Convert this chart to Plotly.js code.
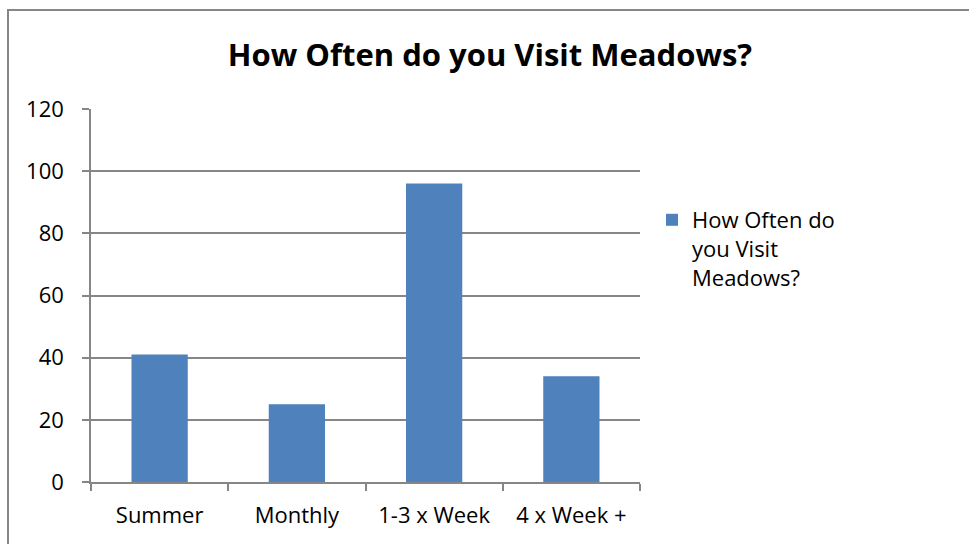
<!DOCTYPE html>
<html>
<head>
<meta charset="utf-8">
<script src="https://cdn.plot.ly/plotly-3.0.1.min.js"></script>
<style>
html,body{margin:0;padding:0;background:#fff;}
#chart{width:969px;height:544px;}
</style>
</head>
<body>
<div id="chart"></div>
<script>
const categories = ["Summer", "Monthly", "1-3 x Week", "4 x Week +"];
const values = [41, 25, 96, 34];
const seriesName = "How Often do<br>you Visit<br>Meadows?";
const chartTitle = "How Often do you Visit Meadows?";
const yTicks = [0, 20, 40, 60, 80, 100, 120];

const L = 91, R = 640, T = 109, B = 482, W = 969, H = 544;
const pw = R - L, ph = B - T;
const px = x => (x - L) / pw;
const py = y => (B - y) / ph;

const font = "Open Sans, Noto Sans, sans-serif";
const grey = "#868686";

Plotly.newPlot("chart", [{
  type: "bar",
  x: categories,
  y: values,
  name: seriesName,
  marker: {color: "#4f81bd"},
  showlegend: true,
  hoverinfo: "x+y"
}], {
  width: W, height: H,
  margin: {l: L, r: W - R, t: T, b: H - B, pad: 0},
  paper_bgcolor: "#fff",
  plot_bgcolor: "#fff",
  bargap: 0.59,
  title: {
    text: "<b>" + chartTitle + "</b>",
    font: {family: font, size: 31, color: "#000"},
    x: px(490), xref: "paper", xanchor: "center",
    y: 1 - 55 / H, yref: "container", yanchor: "middle"
  },
  xaxis: {
    type: "category",
    showline: true, linecolor: grey, linewidth: 1.5,
    ticks: "outside", tickson: "boundaries", ticklen: 7, tickcolor: grey, tickwidth: 1.5,
    showgrid: false,
    tickfont: {family: font, size: 22, color: "#000"},
    ticklabelstandoff: 13,
    fixedrange: true
  },
  yaxis: {
    range: [0, 120],
    tickvals: yTicks,
    ticktext: yTicks.map(String),
    showline: true, linecolor: grey, linewidth: 1.5,
    ticks: "outside", ticklen: 7, tickcolor: grey, tickwidth: 1.5,
    showgrid: true, gridcolor: grey, gridwidth: 1.5,
    zeroline: false,
    tickfont: {family: font, size: 22, color: "#000"},
    ticklabelstandoff: 14,
    fixedrange: true
  },
  legend: {
    x: px(652), y: py(199), xanchor: "left", yanchor: "top",
    valign: "top",
    font: {family: font, size: 22, color: "#000"},
    bgcolor: "rgba(0,0,0,0)"
  },
  shapes: [
    {type: "line", xref: "paper", yref: "paper", x0: px(7), x1: px(969), y0: py(10), y1: py(10), line: {color: grey, width: 2}},
    {type: "line", xref: "paper", yref: "paper", x0: px(8), x1: px(8), y0: py(9), y1: py(544), line: {color: grey, width: 2}}
  ]
}, {displayModeBar: false, staticPlot: false});
</script>
</body>
</html>
